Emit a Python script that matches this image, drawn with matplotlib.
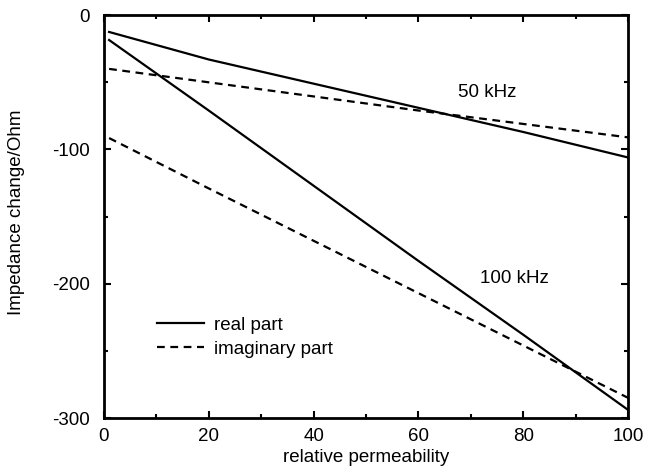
import matplotlib
matplotlib.use("Agg")
import matplotlib.pyplot as plt
from matplotlib.ticker import MultipleLocator

plt.rcParams['font.family'] = ['Liberation Sans', 'DejaVu Sans']
plt.rcParams['axes.unicode_minus'] = False

permeability = [1, 20, 40, 60, 80, 100]
real_50 = [-12.5, -33, -51, -69, -87, -106]
imag_50 = [-40, -50, -60.5, -71, -81, -91]
real_100 = [-18.5, -71, -127, -183, -238, -294]
imag_100 = [-91.5, -129, -168, -207, -246, -285]

x_ticks = [0, 20, 40, 60, 80, 100]
y_ticks = [-300, -200, -100, 0]

FS = 13.5

fig = plt.figure(figsize=(6.45, 4.74), dpi=100)
ax = fig.add_axes([0.161, 0.118, 0.813, 0.850])

lw = 1.6
dash = (0, (3.5, 2.5))
ax.plot(permeability, real_50, color='black', lw=lw, label='real part')
ax.plot(permeability, imag_50, color='black', lw=lw, linestyle=dash, label='imaginary part')
ax.plot(permeability, real_100, color='black', lw=lw)
ax.plot(permeability, imag_100, color='black', lw=lw, linestyle=dash)

ax.set_xlim(0, 100)
ax.set_ylim(-300, 0)
ax.set_xticks(x_ticks)
ax.set_yticks(y_ticks)
ax.xaxis.set_minor_locator(MultipleLocator(10))
ax.yaxis.set_minor_locator(MultipleLocator(50))
ax.tick_params(which='both', direction='in', top=True, right=True, labelsize=FS, width=1.5)
ax.tick_params(which='major', length=5)
ax.tick_params(which='minor', length=3)
ax.tick_params(axis='x', pad=7)
ax.tick_params(axis='y', pad=10)
for s in ax.spines.values():
    s.set_linewidth(2)

ax.set_xlabel('relative permeability', fontsize=FS, va='top')
ax.xaxis.set_label_coords(0.5, -0.076)
ax.set_ylabel('Impedance change/Ohm', fontsize=FS)
ax.yaxis.set_label_coords(-0.150, 0.51)

ax.text(67.6, -57.5, '50 kHz', fontsize=FS, va='center', ha='left')
ax.text(71.8, -196, '100 kHz', fontsize=FS, va='center', ha='left')

ax.legend(loc='upper left', bbox_to_anchor=(0.101, 0.252), frameon=False, fontsize=FS,
          handlelength=2.5, handletextpad=0.53, labelspacing=0.37, borderpad=0,
          borderaxespad=0)

fig.savefig('out.png', dpi=100)
